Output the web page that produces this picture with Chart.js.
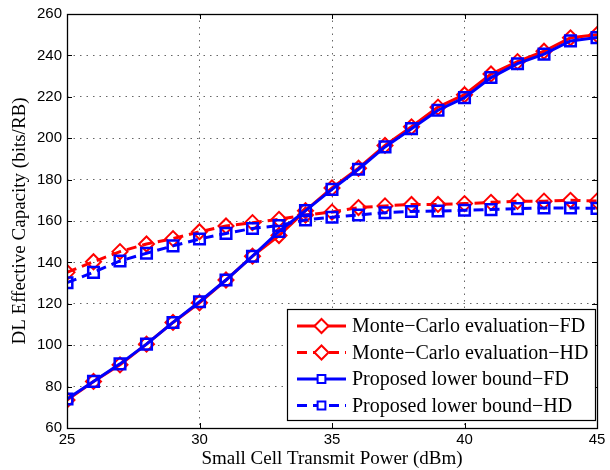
<!DOCTYPE html>
<html>
<head>
<meta charset="utf-8">
<script src="https://cdn.jsdelivr.net/npm/chart.js@4.4.1/dist/chart.umd.min.js"></script>
<style>
  html, body { margin: 0; padding: 0; background: #fff; }
  #wrap { width: 610px; height: 470px; }
</style>
</head>
<body>
<div id="wrap"><canvas id="chart" width="610" height="470"></canvas></div>
<script>
const powerDbm = [25, 26, 27, 28, 29, 30, 31, 32, 33, 34, 35, 36, 37, 38, 39, 40, 41, 42, 43, 44, 45];
const mcFD = [73.5, 82.5, 90.5, 100.5, 111, 120.5, 131.5, 143, 153, 165, 176, 185.5, 196.5, 205.5, 215, 221, 231, 237, 242, 248.5, 250];
const mcHD = [135.2, 140.3, 145.2, 148.9, 151.5, 154.8, 157.6, 159.2, 160.8, 162.9, 164.3, 166.5, 167.3, 168, 168, 168.4, 169, 169.5, 169.6, 170, 169.6];
const lbFD = [74, 82.5, 91, 100.5, 111, 121, 131.5, 143, 155, 165, 175.3, 185, 195.8, 204.6, 213.5, 219.6, 229.3, 236, 240.6, 247, 248.6];
const lbHD = [130.2, 135.2, 140.7, 144.4, 148, 151.3, 154, 156.4, 157.8, 160.5, 161.8, 162.9, 164, 164.6, 164.8, 165.2, 165.5, 166, 166.3, 166.3, 166.1];

const xTicks = [25, 30, 35, 40, 45];
const yTicks = [60, 80, 100, 120, 140, 160, 180, 200, 220, 240, 260];
const seriesNames = ['Monte\u2212Carlo evaluation\u2212FD', 'Monte\u2212Carlo evaluation\u2212HD', 'Proposed lower bound\u2212FD', 'Proposed lower bound\u2212HD'];

const RED = '#ff0000';
const BLUE = '#0000ff';
const DASH = [10, 6];
const SERIF = '"Liberation Serif", "Times New Roman", serif';

function pts(values) {
    return powerDbm.map((p, i) => ({ x: p, y: values[i] }));
}

function makeSet(label, values, color, dashed, marker, order) {
    const diamond = marker === 'rectRot';
    return {
        label,
        data: pts(values),
        borderColor: color,
        backgroundColor: color,
        borderWidth: 3,
        borderDash: dashed ? DASH : [],
        pointStyle: marker,
        pointRadius: 7.5,
        pointBorderWidth: diamond ? 2 : 2.5,
        pointBorderColor: color,
        pointBackgroundColor: 'rgba(0,0,0,0)',
        tension: 0,
        order
    };
}

// MATLAB style box with inward ticks on all four sides, legend inside the axes
const frame = {
    id: 'frame',
    afterDatasetsDraw(chart) {
        const { ctx, chartArea: a, scales } = chart;
        ctx.save();
        ctx.strokeStyle = '#000';
        ctx.lineWidth = 1;
        ctx.beginPath();
        xTicks.forEach(t => {
            const x = Math.round(scales.x.getPixelForValue(t)) + 0.5;
            ctx.moveTo(x, a.bottom); ctx.lineTo(x, a.bottom - 5);
            ctx.moveTo(x, a.top); ctx.lineTo(x, a.top + 5);
        });
        yTicks.forEach(t => {
            const y = Math.round(scales.y.getPixelForValue(t)) + 0.5;
            ctx.moveTo(a.left, y); ctx.lineTo(a.left + 5, y);
            ctx.moveTo(a.right, y); ctx.lineTo(a.right - 5, y);
        });
        ctx.stroke();
        ctx.lineWidth = 1.3;
        ctx.strokeRect(Math.round(a.left) + 0.5, Math.round(a.top) + 0.5, Math.round(a.right - a.left), Math.round(a.bottom - a.top));
        ctx.restore();
    },
    afterDraw(chart) {
        const { ctx } = chart;
        const box = { x: 287.5, y: 309.5, w: 308, h: 111 };
        ctx.save();
        ctx.fillStyle = '#fff';
        ctx.fillRect(box.x, box.y, box.w, box.h);
        ctx.strokeStyle = '#000';
        ctx.lineWidth = 1.2;
        ctx.strokeRect(box.x, box.y, box.w, box.h);
        ctx.font = '20px ' + SERIF;
        ctx.textBaseline = 'middle';
        const rowY = [326, 352.5, 379, 405.5];
        chart.data.datasets.forEach((ds, i) => {
            const y = rowY[i];
            ctx.strokeStyle = ds.borderColor;
            ctx.lineWidth = ds.borderWidth;
            ctx.setLineDash(ds.borderDash);
            ctx.beginPath();
            ctx.moveTo(297, y); ctx.lineTo(346, y);
            ctx.stroke();
            ctx.setLineDash([]);
            ctx.lineWidth = 2;
            ctx.fillStyle = '#fff';
            Chart.helpers.drawPoint(ctx, {
                pointStyle: ds.pointStyle,
                radius: ds.pointStyle === 'rectRot' ? 7 : 5.5,
                rotation: 0,
                borderWidth: 2
            }, 321.5, y);
            ctx.fillStyle = '#000';
            ctx.fillText(ds.label, 352, y + 1);
        });
        ctx.restore();
    }
};

const tickFont = { family: '"Liberation Sans", Arial, sans-serif', size: 15 };
const gridColor = 'rgba(0,0,0,0.6)';

new Chart(document.getElementById('chart'), {
    type: 'line',
    data: {
        datasets: [
            makeSet(seriesNames[0], mcFD, RED, false, 'rectRot', 2),
            makeSet(seriesNames[1], mcHD, RED, true, 'rectRot', 2),
            makeSet(seriesNames[2], lbFD, BLUE, false, 'rect', 1),
            makeSet(seriesNames[3], lbHD, BLUE, true, 'rect', 1)
        ]
    },
    options: {
        responsive: false,
        animation: false,
        layout: { padding: { top: 14, right: 13, left: 0, bottom: 0 } },
        plugins: { legend: { display: false }, tooltip: { enabled: false } },
        scales: {
            x: {
                type: 'linear',
                min: 25,
                max: 45,
                afterBuildTicks: s => { s.ticks = xTicks.map(v => ({ value: v })); },
                afterFit: s => { s.height = 42; },
                ticks: { color: '#000', font: tickFont, padding: 3, maxRotation: 0 },
                grid: { color: gridColor, drawTicks: false },
                border: { display: false, dash: [1.5, 5] },
                title: { display: true, text: 'Small Cell Transmit Power (dBm)', color: '#000',
                    font: { family: SERIF, size: 19 }, padding: { top: 0, bottom: 0 } }
            },
            y: {
                min: 60,
                max: 260,
                afterBuildTicks: s => { s.ticks = yTicks.map(v => ({ value: v })); },
                afterFit: s => { s.width = 67; },
                ticks: { color: '#000', font: tickFont, padding: 5 },
                grid: { color: gridColor, drawTicks: false },
                border: { display: false, dash: [1.5, 5] },
                title: { display: true, text: 'DL Effective Capacity (bits/RB)', color: '#000',
                    font: { family: SERIF, size: 19 }, padding: { top: 9, bottom: 0 } }
            }
        }
    },
    plugins: [frame]
});
</script>
</body>
</html>
